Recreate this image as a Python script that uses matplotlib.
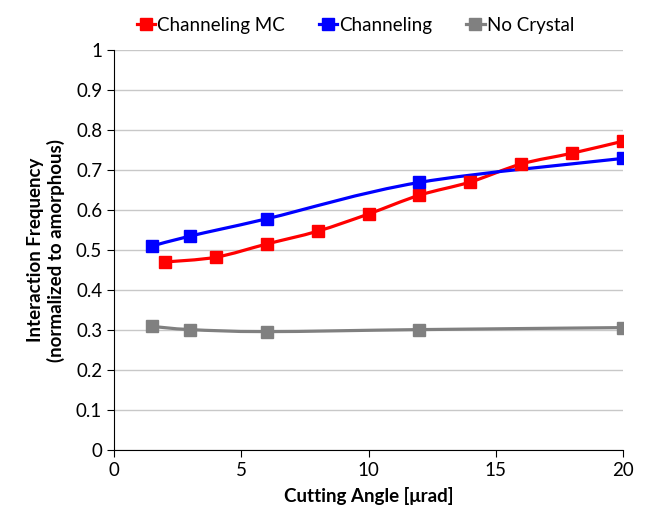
import numpy as np
import matplotlib
matplotlib.use("Agg")
import matplotlib.pyplot as plt
from matplotlib.path import Path
from matplotlib.patches import PathPatch
from matplotlib.lines import Line2D

plt.rcParams['font.family'] = ['Lato', 'DejaVu Sans']

# data
mc_x = [2, 4, 6, 8, 10, 12, 14, 16, 18, 20]
mc_y = [0.470, 0.482, 0.515, 0.547, 0.590, 0.637, 0.670, 0.715, 0.742, 0.772]
ch_x = [1.5, 3, 6, 12, 20]
ch_y = [0.510, 0.535, 0.578, 0.669, 0.729]
nc_x = [1.5, 3, 6, 12, 20]
nc_y = [0.309, 0.301, 0.296, 0.301, 0.306]

series = [
    ("Channeling MC", mc_x, mc_y, "#ff0000"),
    ("Channeling", ch_x, ch_y, "#0000ff"),
    ("No Crystal", nc_x, nc_y, "#808080"),
]


def smooth_path(xs, ys):
    # Excel-style smoothed line: cubic Bezier with Catmull-Rom control points
    p = np.column_stack([xs, ys]).astype(float)
    verts = [p[0]]
    codes = [Path.MOVETO]
    n = len(p)
    for i in range(n - 1):
        p0 = p[i - 1] if i > 0 else p[i]
        p3 = p[i + 2] if i + 2 < n else p[i + 1]
        c1 = p[i] + (p[i + 1] - p0) / 6
        c2 = p[i + 1] - (p3 - p[i]) / 6
        verts += [c1, c2, p[i + 1]]
        codes += [Path.CURVE4] * 3
    return Path(verts, codes)


fig = plt.figure(figsize=(6.46, 5.16), dpi=100)
ax = fig.add_axes([0.1765, 0.1279, 0.7879, 0.7752])

for name, xs, ys, col in series:
    ax.add_patch(PathPatch(smooth_path(xs, ys), facecolor="none",
                           edgecolor=col, lw=2.3, zorder=3))
    ax.plot(xs, ys, linestyle="none", color=col, marker="s",
            markersize=8, zorder=4)

ax.set_xlim(0, 20)
ax.set_ylim(0, 1)
ax.set_xticks(np.arange(0, 21, 5))
ax.set_yticks(np.round(np.arange(0, 1.01, 0.1), 1))
ax.set_yticklabels(["0"] + ["%.1f" % v for v in np.arange(0.1, 0.95, 0.1)] + ["1"])
ax.yaxis.grid(True, color="#c8c8c8", lw=1)
ax.set_axisbelow(True)
for s in ["top", "right"]:
    ax.spines[s].set_visible(False)
ax.tick_params(axis="both", labelsize=13.5, length=5, direction="out")

ax.set_xlabel("Cutting Angle [\u03bcrad]", fontsize=13.5, fontweight="bold",
              labelpad=6)
ax.set_ylabel("Interaction Frequency\n(normalized to amorphous)",
              fontsize=13.5, fontweight="bold", labelpad=8)

handles = [Line2D([], [], color=c, lw=2.3, marker="s", markersize=8)
           for _, _, _, c in series]
fig.legend(handles, [s[0] for s in series], loc="upper center",
           bbox_to_anchor=(0.55, 1.0), ncol=3, frameon=False, fontsize=13.5,
           handlelength=1.0, handletextpad=0.1, columnspacing=1.8)

fig.savefig("out.png", dpi=100)
